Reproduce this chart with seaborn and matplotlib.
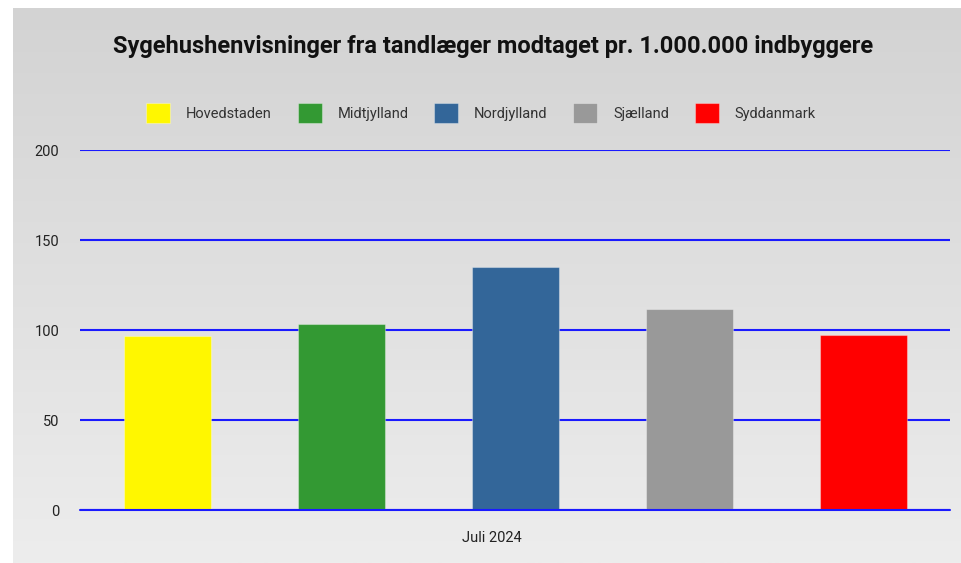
# Bibliotecas
import numpy as np
import pandas as pd
import seaborn as sns
import matplotlib.pyplot as plt
from matplotlib.colors import LinearSegmentedColormap
from matplotlib.transforms import ScaledTranslation

# Data
periode = ["Juli 2024"]
regioner = ["Hovedstaden", "Midtjylland", "Nordjylland", "Sjælland", "Syddanmark"]
vaerdier = [96.8, 103.2, 135.2, 111.7, 97.2]
farver = ["#fff700", "#339933", "#336699", "#999999", "#ff0000"]

df = pd.DataFrame({
    "Periode": periode * len(regioner),
    "Region": regioner,
    "Vaerdi": vaerdier,
})

sns.set_style("white")
plt.rcParams["font.family"] = ["Roboto", "DejaVu Sans"]

fig = plt.figure(figsize=(9.61, 5.63), dpi=100)

# Baggrund med gradient (hvid kant til venstre og top)
bg = fig.add_axes([13 / 961, 0, 1 - 13 / 961, 1 - 8 / 563], zorder=-10)
grad = np.linspace(0, 1, 256).reshape(-1, 1)
bg.imshow(grad, aspect="auto", cmap=LinearSegmentedColormap.from_list("bg", ["#d3d3d3", "#ededed"]),
          extent=[0, 1, 0, 1], origin="upper")
bg.axis("off")

ax = fig.add_axes([80 / 961, 1 - 510 / 563, 870 / 961, 360 / 563])
ax.patch.set_alpha(0)

sns.barplot(data=df, x="Periode", y="Vaerdi", hue="Region", hue_order=regioner,
            palette=farver, saturation=1, width=1, gap=0.5, ax=ax, legend=True,
            edgecolor="#ffffff55", linewidth=0.8, zorder=3)

ax.set_xlim(-0.5, 0.5)
ax.set_ylim(0, 200)
ax.set_yticks([0, 50, 100, 150, 200])
ax.yaxis.grid(True, color="#1a1aff", linewidth=1.5)
ax.xaxis.grid(False)
ax.set_axisbelow(True)
ax.axhline(0, color="#1a1aff", linewidth=1.5, zorder=4, clip_on=False)
for s in ax.spines.values():
    s.set_visible(False)
ax.set_xlabel("")
ax.set_ylabel("")
ax.tick_params(axis="y", length=0, pad=15, labelsize=10.5, labelcolor="#222222")
ax.tick_params(axis="x", length=0, pad=15, labelsize=10.5, labelcolor="#222222")
# kategorien står lidt til venstre for midten i originalen
for lbl in ax.get_xticklabels():
    lbl.set_transform(lbl.get_transform() + ScaledTranslation(-23 / 100, 0, fig.dpi_scale_trans))

# Titel og forklaring
fig.text(493 / 961, 1 - 47 / 563, "Sygehushenvisninger fra tandlæger modtaget pr. 1.000.000 indbyggere",
         ha="center", va="center", fontsize=17, fontweight="bold", color="#111111")

handles, labels = ax.get_legend_handles_labels()
ax.get_legend().remove()
fig.legend(handles, labels, loc="center", bbox_to_anchor=(481 / 961, 1 - 113 / 563), ncol=5,
           frameon=False, fontsize=10.5, handlelength=1.65, handleheight=1.65,
           handletextpad=1.1, columnspacing=1.75, labelcolor="#333333")

fig.savefig("out.png", dpi=100)
